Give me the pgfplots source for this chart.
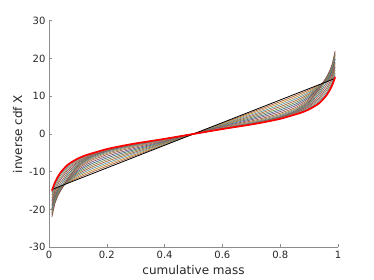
\documentclass[border=0pt]{standalone}
\usepackage{pgfplots}
\pgfplotsset{compat=1.18}
\usepackage{pgfplotstable}
\usepackage{fontspec}
\setmainfont{DejaVu Sans}
\definecolor{mA}{rgb}{0,0.447,0.741}
\definecolor{mB}{rgb}{0.85,0.325,0.098}
\definecolor{mC}{rgb}{0.929,0.694,0.125}
\definecolor{mD}{rgb}{0.494,0.184,0.556}
\definecolor{mE}{rgb}{0.466,0.674,0.188}
\definecolor{mF}{rgb}{0.301,0.745,0.933}
\definecolor{mG}{rgb}{0.635,0.078,0.184}
\definecolor{band}{rgb}{0.50,0.45,0.40}
\definecolor{axgray}{rgb}{0.55,0.55,0.55}
\definecolor{txt}{rgb}{0.15,0.15,0.15}

\pgfplotstableread{
p B t1 t2 t3 t4 t5 t6 t7 t8 t9 t10 t11 u1 u2 u3 u4 u5 u6 u7 R
0.01 -14.7 -15.43 -16.16 -16.89 -17.62 -18.35 -19.08 -19.81 -20.54 -21.12 -21.56 -22.0 -20.95 -19.9 -18.85 -17.8 -16.96 -16.12 -15.42 -15.0
0.02 -14.4 -14.81 -15.22 -15.63 -16.04 -16.45 -16.86 -17.27 -17.68 -18.01 -18.25 -18.5 -17.66 -16.82 -15.98 -15.14 -14.47 -13.80 -13.24 -12.9
0.03 -14.1 -14.34 -14.58 -14.82 -15.06 -15.3 -15.54 -15.78 -16.02 -16.21 -16.36 -16.5 -15.74 -14.97 -14.21 -13.44 -12.83 -12.22 -11.71 -11.4
0.04 -13.8 -13.92 -14.04 -14.16 -14.28 -14.40 -14.52 -14.64 -14.76 -14.86 -14.93 -15.0 -14.28 -13.56 -12.84 -12.12 -11.54 -10.97 -10.49 -10.2
0.05 -13.5 -13.53 -13.56 -13.59 -13.62 -13.65 -13.68 -13.71 -13.74 -13.76 -13.78 -13.8 -13.13 -12.45 -11.78 -11.1 -10.56 -10.02 -9.57 -9.3
0.0625 -13.125 -13.02 -12.92 -12.82 -12.72 -12.61 -12.51 -12.41 -12.31 -12.22 -12.16 -12.1 -11.53 -10.96 -10.39 -9.82 -9.36 -8.91 -8.53 -8.3
0.075 -12.75 -12.56 -12.36 -12.17 -11.97 -11.78 -11.58 -11.39 -11.19 -11.03 -10.92 -10.8 -10.32 -9.84 -9.36 -8.88 -8.50 -8.11 -7.79 -7.6
0.1 -12.0 -11.65 -11.3 -10.95 -10.6 -10.25 -9.9 -9.55 -9.2 -8.92 -8.71 -8.5 -8.2 -7.9 -7.6 -7.3 -7.06 -6.82 -6.62 -6.5
0.125 -11.25 -10.84 -10.42 -10.01 -9.59 -9.18 -8.76 -8.35 -7.93 -7.60 -7.35 -7.1 -6.89 -6.68 -6.47 -6.26 -6.09 -5.92 -5.78 -5.7
0.15 -10.5 -10.05 -9.6 -9.15 -8.7 -8.25 -7.8 -7.35 -6.9 -6.54 -6.27 -6.0 -5.87 -5.73 -5.60 -5.46 -5.35 -5.24 -5.15 -5.1
0.2 -9.0 -8.56 -8.12 -7.68 -7.24 -6.8 -6.36 -5.92 -5.48 -5.13 -4.86 -4.6 -4.51 -4.42 -4.33 -4.24 -4.17 -4.10 -4.04 -4.0
0.25 -7.5 -7.11 -6.72 -6.33 -5.94 -5.55 -5.16 -4.77 -4.38 -4.07 -3.83 -3.6 -3.54 -3.48 -3.42 -3.36 -3.31 -3.26 -3.22 -3.2
0.3 -6.0 -5.68 -5.36 -5.04 -4.72 -4.4 -4.08 -3.76 -3.44 -3.18 -2.99 -2.8 -2.76 -2.71 -2.67 -2.62 -2.58 -2.55 -2.52 -2.5
0.4 -3.0 -2.84 -2.68 -2.52 -2.36 -2.2 -2.04 -1.88 -1.72 -1.59 -1.50 -1.4 -1.39 -1.37 -1.36 -1.34 -1.33 -1.32 -1.31 -1.3
0.5 0 0 0 0 0 0 0 0 0 0 0 0 0 0 0 0 0 0 0 0
0.6 3.0 2.84 2.68 2.52 2.36 2.2 2.04 1.88 1.72 1.59 1.50 1.4 1.39 1.37 1.36 1.34 1.33 1.32 1.31 1.3
0.7 6.0 5.68 5.36 5.04 4.72 4.4 4.08 3.76 3.44 3.18 2.99 2.8 2.76 2.71 2.67 2.62 2.58 2.55 2.52 2.5
0.75 7.5 7.11 6.72 6.33 5.94 5.55 5.16 4.77 4.38 4.07 3.83 3.6 3.54 3.48 3.42 3.36 3.31 3.26 3.22 3.2
0.8 9.0 8.56 8.12 7.68 7.24 6.8 6.36 5.92 5.48 5.13 4.86 4.6 4.51 4.42 4.33 4.24 4.17 4.10 4.04 4.0
0.85 10.5 10.05 9.6 9.15 8.7 8.25 7.8 7.35 6.9 6.54 6.27 6.0 5.87 5.73 5.60 5.46 5.35 5.24 5.15 5.1
0.875 11.25 10.84 10.42 10.01 9.59 9.18 8.76 8.35 7.93 7.60 7.35 7.1 6.89 6.68 6.47 6.26 6.09 5.92 5.78 5.7
0.9 12.0 11.65 11.3 10.95 10.6 10.25 9.9 9.55 9.2 8.92 8.71 8.5 8.2 7.9 7.6 7.3 7.06 6.82 6.62 6.5
0.925 12.75 12.56 12.36 12.17 11.97 11.78 11.58 11.39 11.19 11.03 10.92 10.8 10.32 9.84 9.36 8.88 8.50 8.11 7.79 7.6
0.9375 13.125 13.02 12.92 12.82 12.72 12.61 12.51 12.41 12.31 12.22 12.16 12.1 11.53 10.96 10.39 9.82 9.36 8.91 8.53 8.3
0.95 13.5 13.53 13.56 13.59 13.62 13.65 13.68 13.71 13.74 13.76 13.78 13.8 13.13 12.45 11.78 11.1 10.56 10.02 9.57 9.3
0.96 13.8 13.92 14.04 14.16 14.28 14.40 14.52 14.64 14.76 14.86 14.93 15.0 14.28 13.56 12.84 12.12 11.54 10.97 10.49 10.2
0.97 14.1 14.34 14.58 14.82 15.06 15.3 15.54 15.78 16.02 16.21 16.36 16.5 15.74 14.97 14.21 13.44 12.83 12.22 11.71 11.4
0.98 14.4 14.81 15.22 15.63 16.04 16.45 16.86 17.27 17.68 18.01 18.25 18.5 17.66 16.82 15.98 15.14 14.47 13.80 13.24 12.9
0.99 14.7 15.43 16.16 16.89 17.62 18.35 19.08 19.81 20.54 21.12 21.56 22.0 20.95 19.9 18.85 17.8 16.96 16.12 15.42 15.0
}\qdata

\begin{document}
\begin{tikzpicture}
\useasboundingbox (-49pt,-32.6pt) rectangle (325pt,247.3pt);
\begin{axis}[
  at={(0pt,0pt)}, anchor=south west,
  scale only axis, width=289pt, height=226.7pt,
  xmin=0, xmax=1, ymin=-30, ymax=30,
  axis x line=bottom, axis y line=left,
  axis line style={-, draw=axgray, line width=0.5pt},
  tick style={draw=axgray, line width=0.5pt},
  tick align=inside, major tick length=3pt,
  xtick={0,0.2,0.4,0.6,0.8,1},
  xticklabels={0,0.2,0.4,0.6,0.8,1},
  ytick={-30,-20,-10,0,10,20,30},
  yticklabels={-30,-20,-10,0,10,20,30},
  ticklabel style={font=\fontsize{10}{12}\selectfont, text=txt},
  xlabel={cumulative mass}, ylabel={inverse cdf X},
  label style={font=\fontsize{12}{14}\selectfont, text=txt},
  every axis plot/.append style={smooth, tension=0.4, line width=0.75pt},
]
\addplot[mB!55!band] table[x=p,y=t1]{\qdata};
\addplot[mC!55!band] table[x=p,y=t2]{\qdata};
\addplot[mF!50!band] table[x=p,y=t3]{\qdata};
\addplot[mB!50!band] table[x=p,y=t4]{\qdata};
\addplot[mE!45!band] table[x=p,y=t5]{\qdata};
\addplot[mA!40!band] table[x=p,y=t6]{\qdata};
\addplot[mD!40!band] table[x=p,y=t7]{\qdata};
\addplot[mB!40!band] table[x=p,y=t8]{\qdata};
\addplot[mC!35!band] table[x=p,y=t9]{\qdata};
\addplot[mF!35!band] table[x=p,y=t10]{\qdata};
\addplot[mG!35!band] table[x=p,y=t11]{\qdata};
\addplot[mE!35!band] table[x=p,y=u1]{\qdata};
\addplot[mA!35!band] table[x=p,y=u2]{\qdata};
\addplot[mB!35!band] table[x=p,y=u3]{\qdata};
\addplot[mD!35!band] table[x=p,y=u4]{\qdata};
\addplot[mC!35!band] table[x=p,y=u5]{\qdata};
\addplot[mF!35!band] table[x=p,y=u6]{\qdata};
\addplot[mG!35!band] table[x=p,y=u7]{\qdata};
\addplot[black, line width=0.8pt, sharp plot] table[x=p,y=B]{\qdata};
\addplot[red, line width=1.7pt] table[x=p,y=R]{\qdata};
\end{axis}
\end{tikzpicture}
\end{document}
